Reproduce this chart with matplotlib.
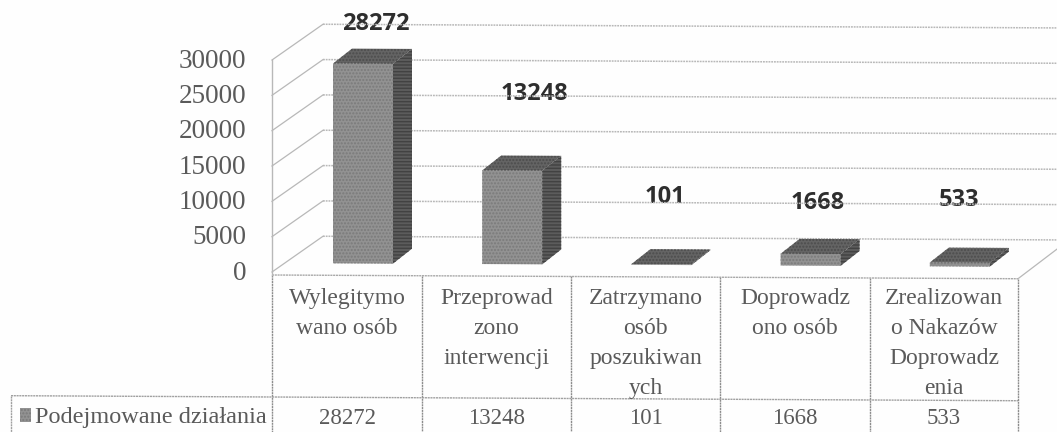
import matplotlib
matplotlib.use('Agg')
import matplotlib.pyplot as plt
from matplotlib.transforms import Affine2D

categories = ["Wylegitymo\nwano osób", "Przeprowad\nzono\ninterwencji", "Zatrzymano\nosób\nposzukiwan\nych",
              "Doprowadz\nono osób", "Zrealizowan\no Nakazów\nDoprowadz\nenia"]
values = [28272, 13248, 101, 1668, 533]
yticks = [0, 5000, 10000, 15000, 20000, 25000, 30000]
series_name = "Podejmowane działania"

W, H = 1057, 432
fig = plt.figure(figsize=(W / 100, H / 100), dpi=100, facecolor='#fefefe')

# pixel overlay for table and labels, data axes for the 3d-ish chart
ax_px = fig.add_axes([0, 0, 1, 1])
ax_px.set_xlim(0, W)
ax_px.set_ylim(H, 0)
ax_px.axis('off')

ax = fig.add_axes([272 / W, (H - 272) / H, (1018 - 272) / W, 212 / H])
ax.set_xlim(-0.5, 4.5)
ax.set_ylim(0, 30000)
ax.axis('off')

# the scan is slightly rotated
tilt = Affine2D.from_values(1, -0.005, 0, 1, 0, 1.36)
t_data = ax.transData + tilt
t_px = ax_px.transData + tilt

px_x = 5 / (1018 - 272)  # 1 px in category units
px_y = 30000 / 212       # 1 px in value units
depth_x = 51 * px_x
depth_y = 36 * px_y
grid_c = '#b8b8b8'
grid_ls = (0, (1.2, 0.6))
text_c = '#5a5a5a'

# walls and gridlines
for v in yticks:
    ax.plot([-0.5, -0.5 + depth_x], [v, v + depth_y], color=grid_c, lw=0.9, transform=t_data, clip_on=False)
    ax.plot([-0.5 + depth_x, 4.5 + depth_x], [v + depth_y, v + depth_y], color=grid_c, lw=1.1, ls=grid_ls,
            transform=t_data, clip_on=False)
    ax_px.text(246, 273 - v / px_y, str(v), ha='right', va='center', family='Liberation Serif',
               fontsize=19.5, color=text_c)
ax.plot([-0.5, -0.5], [-3 * px_y, 30000], color=grid_c, lw=1.0, transform=t_data, clip_on=False)
ax.plot([4.5, 4.5 + depth_x], [-3 * px_y, depth_y], color=grid_c, lw=0.9, transform=t_data, clip_on=False)

# bars: front, side, top
bar_w = 60 * px_x
base = 9 * px_y
bar_dx = 19 * px_x
bar_dy = 15 * px_y
for i, v in enumerate(values):
    x0 = i - 0.5 + 61 * px_x
    x1 = x0 + bar_w
    y0 = base
    y1 = base + v
    ax.fill([x0, x1, x1, x0], [y0, y0, y1, y1], facecolor='#929292', edgecolor='#7a7a7a', lw=0, hatch='.....',
            transform=t_data, clip_on=False, zorder=3)
    ax.fill([x1, x1 + bar_dx, x1 + bar_dx, x1], [y0, y0 + bar_dy, y1 + bar_dy, y1], facecolor='#5c5c5c',
            edgecolor='#424242', lw=0, hatch='-----', transform=t_data, clip_on=False, zorder=3)
    ax.fill([x0, x1, x1 + bar_dx, x0 + bar_dx], [y1, y1, y1 + bar_dy, y1 + bar_dy], facecolor='#646464',
            edgecolor='#4c4c4c', lw=0, hatch='.....', transform=t_data, clip_on=False, zorder=3)

# value labels were placed by hand in the original
label_pos = [(376, 24), (534, 94), (665, 197), (818, 203), (959, 200)]
for (lx, ly), v in zip(label_pos, values):
    ax_px.text(lx, ly, str(v), ha='center', va='center', family='Open Sans', fontweight='bold', fontsize=17,
               color='#2e2e2e', zorder=5, bbox=dict(fc='#fefefe', ec='none', pad=0.5))

# table
col_x = [272, 422, 571, 720, 870, 1018]
line_c = '#8c8c8c'
for cx in col_x:
    ax_px.plot([cx, cx], [275, 434], color=line_c, lw=1.0, ls=(0, (1.5, 0.5)), transform=t_px, clip_on=False)
ax_px.plot([272, 1018], [275, 275], color='#a8a8a8', lw=1.0, ls=(0, (1.5, 0.5)), transform=t_px)
ax_px.plot([11, 1018], [397, 397], color='#a0a0a0', lw=1.0, ls=(0, (1.5, 0.5)), transform=t_px)
ax_px.plot([11, 11], [397, 434], color='#a0a0a0', lw=1.0, ls=(0, (1.5, 0.5)), transform=t_px, clip_on=False)
for i, (name, v) in enumerate(zip(categories, values)):
    cx = (col_x[i] + col_x[i + 1]) / 2
    ax_px.text(cx, 288, name, ha='center', va='top', family='Liberation Serif', fontsize=17, color=text_c,
               linespacing=1.57)
    ax_px.text(cx, 418, str(v), ha='center', va='center', family='Liberation Serif', fontsize=16.5, color=text_c)
ax_px.fill([20, 31, 31, 20], [408, 408, 422, 422], facecolor='#929292', edgecolor='#7a7a7a', lw=0, hatch='.....')
ax_px.text(35, 417, series_name, ha='left', va='center', family='Liberation Serif', fontsize=17.5, color=text_c)

fig.savefig('out.png', dpi=100, facecolor=fig.get_facecolor())
